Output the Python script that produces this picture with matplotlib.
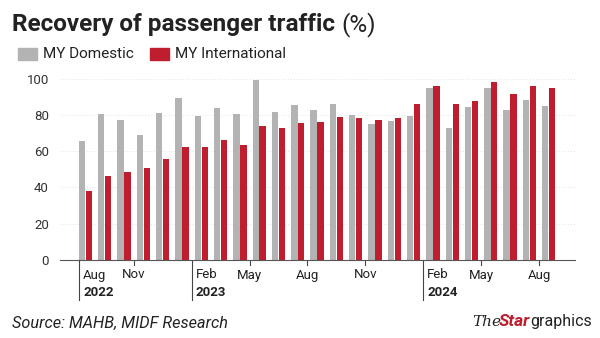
import matplotlib
matplotlib.use("Agg")
import matplotlib.pyplot as plt
import matplotlib.transforms as mtransforms
from matplotlib.patches import Rectangle
import numpy as np

plt.rcParams['font.family'] = ['Roboto', 'DejaVu Sans']

# Monthly recovery (%) Aug 2022 - Aug 2024
domestic = [65.5, 80.5, 77.4, 68.6, 81.1, 89.0, 79.6, 83.8, 80.5, 99.1,
            81.6, 85.3, 82.4, 86.2, 79.8, 75.2, 76.7, 79.3, 94.7, 72.5,
            84.4, 94.7, 82.4, 88.4, 84.8]
international = [37.8, 46.2, 48.4, 50.8, 55.8, 62.2, 62.2, 66.2, 63.3, 73.7,
                 72.5, 75.4, 76.1, 78.9, 78.5, 77.2, 78.5, 85.7, 96.1, 85.7,
                 87.7, 98.3, 91.2, 95.6, 94.8]

# labelled months: (month index, label, year label or None)
month_ticks = [(0, "Aug", "2022"), (3, "Nov", None), (6, "Feb", "2023"),
               (9, "May", None), (12, "Aug", None), (15, "Nov", None),
               (18, "Feb", "2024"), (21, "May", None), (24, "Aug", None)]

GREY = "#b3b3b3"
RED = "#be1e2d"
TEXT = "#222222"

W, H = 600, 338
fig = plt.figure(figsize=(6, 3.38), dpi=100)
ax = fig.add_axes([60 / W, 1 - 260 / H, 515 / W, (260 - 78.5) / H])

x = np.arange(len(domestic))
bw = 0.33
ax.bar(x - 0.18, domestic, width=bw, color=GREY, zorder=2)
ax.bar(x + 0.18, international, width=bw, color=RED, zorder=2)

ax.set_xlim(-1.32, 25.36)
ax.set_ylim(0, 100)
ax.set_yticks(range(0, 101, 20))
ax.tick_params(axis="y", length=0, pad=8, labelsize=9.5, labelcolor="#333333")
for v in range(20, 101, 20):
    ax.axhline(v, color="#e4e4e4", lw=0.7, ls=(0, (1, 2)), zorder=1)

for s in ["left", "right", "top"]:
    ax.spines[s].set_visible(False)
ax.spines["bottom"].set_color("#555555")
ax.spines["bottom"].set_linewidth(0.8)

ax.set_xticks([])
trans = mtransforms.blended_transform_factory(ax.transData, ax.transAxes)
ax_h = 260 - 78.5
for idx, label, year in month_ticks:
    b = idx - 0.5
    if year:
        if idx == 0:
            b = -0.33  # first divider sits flush with the first bar
        ax.plot([b, b], [0, -40 / ax_h], color="#444444", lw=0.8,
                transform=trans, clip_on=False)
        off = mtransforms.offset_copy(trans, fig=fig, x=4, y=0, units="dots")
        ax.text(b, -15 / ax_h, label, transform=off, ha="left", va="center",
                fontsize=9.5, color=TEXT)
        ax.text(b, -33 / ax_h, year, transform=off, ha="left", va="center",
                fontsize=9.5, fontweight="bold", color=TEXT)
    else:
        ax.plot([b, b], [0, -5 / ax_h], color="#444444", lw=0.8,
                transform=trans, clip_on=False)
        ax.text(b, -15 / ax_h, label, transform=trans, ha="center",
                va="center", fontsize=9.5, color=TEXT)

# title: bold part followed by regular "(%)"
t1 = fig.text(12 / W, 1 - 31.5 / H, "Recovery of passenger traffic",
              fontsize=17.5, fontweight="bold", color=TEXT, va="baseline")
fig.canvas.draw()
bb = t1.get_window_extent()
fig.text((bb.x1 + 6) / W, 1 - 31.5 / H, "(%)", fontsize=17.5, color=TEXT,
         va="baseline")

# legend
for px, label, col in [(18, "MY Domestic", GREY), (150, "MY International", RED)]:
    fig.patches.append(Rectangle((px / W, 1 - 60 / H), 19 / W, 12 / H,
                                 transform=fig.transFigure, color=col))
    fig.text((px + 25) / W, 1 - 54 / H, label, fontsize=11, color=TEXT,
             va="center")

# footer
fig.text(12 / W, 1 - 328 / H, "Source: MAHB, MIDF Research", fontsize=11.7,
         style="italic", color=TEXT, va="baseline")
t_the = fig.text(472 / W, 1 - 326 / H, "The", fontsize=11, style="italic",
                 color=TEXT, va="baseline", family="DejaVu Serif")
fig.canvas.draw()
e = t_the.get_window_extent()
t_star = fig.text((e.x1 - 2) / W, 1 - 326 / H, "Star", fontsize=12.5,
                  fontweight="bold", style="italic", color=RED, va="baseline")
fig.canvas.draw()
e = t_star.get_window_extent()
fig.text(e.x1 / W, 1 - 326 / H, "graphics", fontsize=11.5, color=TEXT,
         va="baseline")

fig.savefig("out.png", dpi=100)
